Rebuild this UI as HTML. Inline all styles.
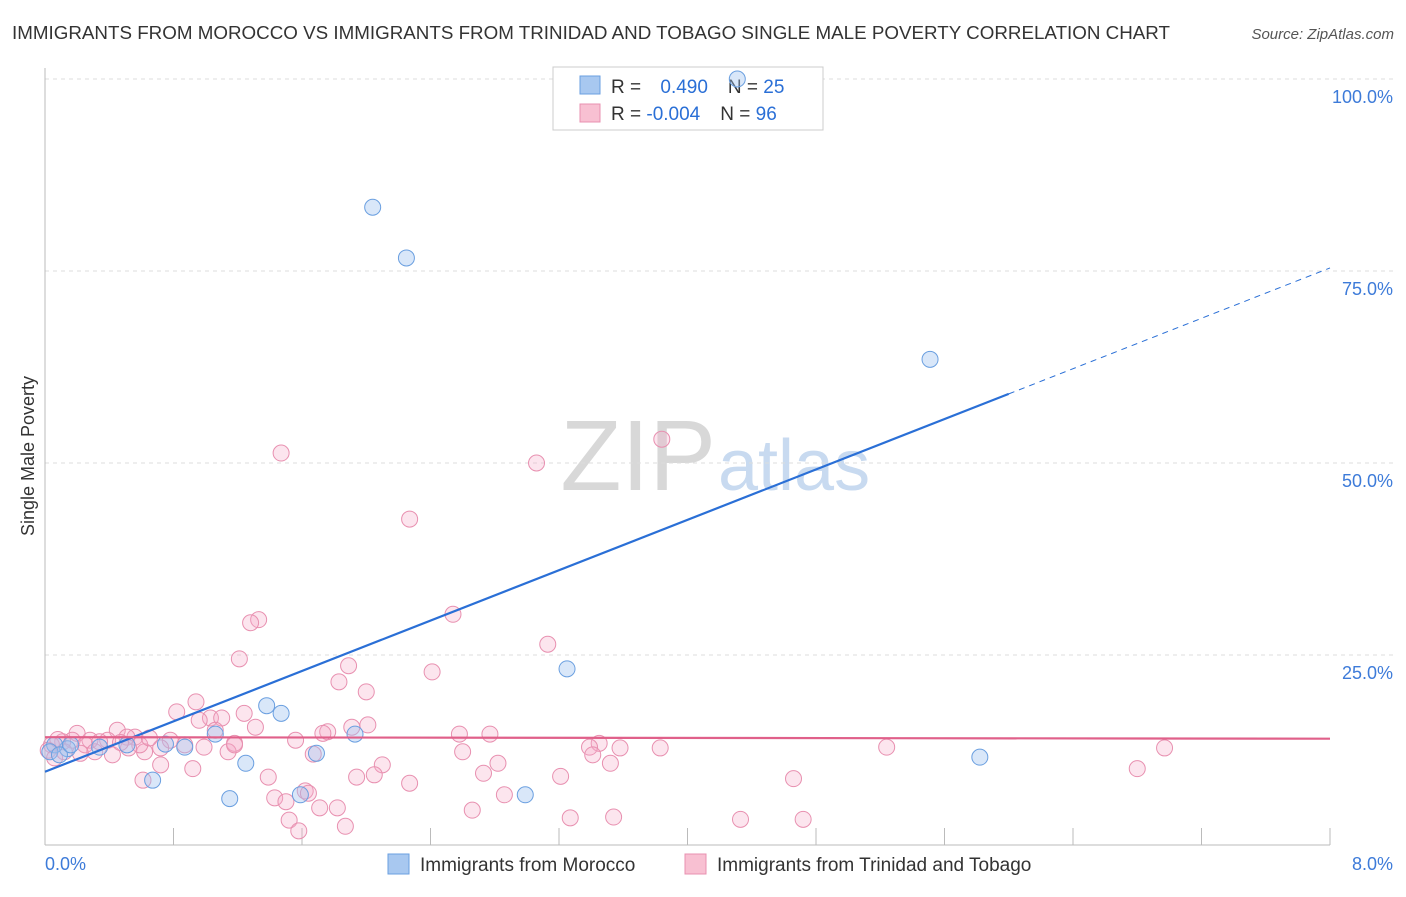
<!DOCTYPE html>
<html><head><meta charset="utf-8"><style>
body{margin:0;background:#fff;font-family:"Liberation Sans",sans-serif;}
svg text{font-family:"Liberation Sans",sans-serif;}
</style></head><body>
<svg id="chart" width="1406" height="892" xmlns="http://www.w3.org/2000/svg">
<text x="12" y="39" font-size="18" fill="#333" textLength="1158" lengthAdjust="spacingAndGlyphs">IMMIGRANTS FROM MOROCCO VS IMMIGRANTS FROM TRINIDAD AND TOBAGO SINGLE MALE POVERTY CORRELATION CHART</text>
<text x="1394" y="39" font-size="15" fill="#555" text-anchor="end" font-style="italic">Source: ZipAtlas.com</text>
<text x="716" y="490" font-size="100" fill="#d8d8d8" text-anchor="end" font-family="Liberation Serif">ZIP</text>
<text x="718" y="490" font-size="72" fill="#c8daf0">atlas</text>
<g id="grid"></g>
<g id="axes"></g>
<g>
<rect x="553" y="67" width="270" height="63" fill="#fff" stroke="#ccc"/>
<rect x="580" y="76" width="20" height="18" fill="#a8c8f0" stroke="#6a9fe0"/>
<rect x="580" y="104" width="20" height="18" fill="#f8c0d2" stroke="#e890b0"/>
<text x="611" y="93" font-size="19" fill="#333">R = <tspan fill="#2a6fd6" dx="14">0.490</tspan><tspan dx="20" fill="#333">N = </tspan><tspan fill="#2a6fd6">25</tspan></text>
<text x="611" y="120" font-size="19" fill="#333">R = <tspan fill="#2a6fd6">-0.004</tspan><tspan dx="20" fill="#333">N = </tspan><tspan fill="#2a6fd6">96</tspan></text>
</g>
<g id="pinkpts"></g>
<g id="bluepts"></g>
<g id="lines"></g>
<text transform="translate(34,456) rotate(-90)" font-size="18" fill="#333" text-anchor="middle">Single Male Poverty</text>
<g>
<rect x="388" y="854" width="21" height="20" fill="#a8c8f0" stroke="#6a9fe0"/>
<text x="420" y="871" font-size="19" fill="#333">Immigrants from Morocco</text>
<rect x="685" y="854" width="21" height="20" fill="#f8c0d2" stroke="#e890b0"/>
<text x="717" y="871" font-size="19" fill="#333">Immigrants from Trinidad and Tobago</text>
</g>
</svg>
<script>
const yTicks=[100,75,50,25];
const yTickLabels=["100.0%","75.0%","50.0%","25.0%"];
const xTicks=[0,0.8,1.6,2.4,3.2,4.0,4.8,5.6,6.4,7.2,8.0];
const xTickLabels=["0.0%","8.0%"];
const blueX=[4.31,2.04,2.25,5.51,3.25,1.38,1.47,1.93,1.06,1.69,1.25,0.67,1.15,1.59,2.99,5.82,0.87,0.75,0.51,0.34,0.14,0.06,0.03,0.09,0.16];
const blueY=[100,83.3,76.7,63.5,23.2,18.4,17.4,14.7,14.7,12.2,10.9,8.7,6.3,6.8,6.8,11.7,13.0,13.4,13.3,13.0,12.8,13.3,12.4,12.0,13.3];
const pinkX=[1.47,3.06,3.84,2.27,2.54,1.33,1.28,3.13,1.21,1.89,2.41,1.83,2.0,0.94,0.82,1.24,1.03,1.1,0.96,1.31,1.91,2.01,1.76,1.73,2.58,2.77,1.56,1.18,3.45,3.39,3.58,3.83,5.24,6.97,2.6,1.67,1.14,0.99,0.78,0.72,0.62,0.56,0.45,0.39,0.28,0.2,0.17,0.11,0.04,0.02,0.06,0.25,0.42,0.51,0.59,2.82,3.52,3.41,2.1,0.72,0.92,0.61,1.39,1.94,2.05,2.73,3.21,2.27,4.66,6.8,1.43,1.5,1.62,1.64,2.86,1.71,1.82,1.52,1.58,1.87,2.66,3.27,3.54,4.33,4.72,0.12,0.31,0.34,0.65,0.87,1.06,1.18,0.52,0.08,0.22,0.47];
const pinkY=[51.3,50,53.1,42.7,30.3,29.6,29.2,26.4,24.5,23.6,22.8,21.5,20.2,18.9,17.6,17.4,16.8,16.8,16.5,15.6,15.6,15.9,15,14.8,14.7,14.7,13.9,13.5,13.5,13.0,12.9,12.9,13.0,12.9,12.4,12.1,12.4,13.0,13.9,12.9,12.4,14.3,15.2,13.9,13.9,14.8,13.9,13.7,13.3,12.6,11.6,13.3,12.0,14.3,13.3,10.9,10.9,12.0,10.7,10.7,10.2,8.7,9.1,9.1,9.4,9.6,9.2,8.3,8.9,10.2,6.4,5.9,7.3,7.0,6.8,5.1,5.1,3.5,2.1,2.7,4.8,3.8,3.9,3.6,3.6,12.4,12.4,13.7,14.2,13.3,15.2,13.3,12.9,14.0,12.2,13.6];
const blueLine=[9.8,75.4];
const blueSolidEnd=6.0;
const pinkLine=[14.3,14.1];
const X=v=>45+v/8*1285, Y=v=>847-v*7.68;
const NS="http://www.w3.org/2000/svg";
function mk(parent,tag,attrs){const e=document.createElementNS(NS,tag);for(const k in attrs)e.setAttribute(k,attrs[k]);document.getElementById(parent).appendChild(e);return e;}
yTicks.forEach((t,i)=>{
 const g=mk('grid','line',{x1:45,x2:1393,y1:Y(t),y2:Y(t),stroke:'#ddd','stroke-dasharray':'4,4'});
 
 
 const tx=mk('axes','text',{x:1393,y:Y(t)+24,'font-size':18,fill:'#3d7bd9','text-anchor':'end'});tx.textContent=yTickLabels[i];
 
 
});
const ax=mk('axes','line',{x1:45,x2:45,y1:68,y2:845,stroke:'#bbb'});


const bx=mk('axes','line',{x1:45,x2:1330,y1:845,y2:845,stroke:'#bbb'});


xTicks.forEach(t=>{const l=mk('axes','line',{x1:X(t),x2:X(t),y1:828,y2:845,stroke:'#bbb'});
 
 });
[[0,45,'start'],[8,1393,'end']].forEach((d,i)=>{const t=mk('axes','text',{x:d[1],y:870,'font-size':18,fill:'#3d7bd9','text-anchor':d[2]});t.textContent=xTickLabels[i];
 
 });
pinkX.forEach((x,i)=>{const c=mk('pinkpts','circle',{cx:X(x),cy:Y(pinkY[i]),r:8,fill:'rgba(245,170,200,0.3)',stroke:'#e890b0','stroke-width':1});
 
 });
blueX.forEach((x,i)=>{const c=mk('bluepts','circle',{cx:X(x),cy:Y(blueY[i]),r:8,fill:'rgba(160,195,240,0.4)',stroke:'#6a9fe0','stroke-width':1});
 
 });
const by=x=>blueLine[0]+(blueLine[1]-blueLine[0])*x/8;
const l1=mk('lines','line',{x1:X(0),y1:Y(by(0)),x2:X(blueSolidEnd),y2:Y(by(blueSolidEnd)),stroke:'#2a6fd6','stroke-width':2.2});


const l2=mk('lines','line',{x1:X(blueSolidEnd),y1:Y(by(blueSolidEnd)),x2:X(8),y2:Y(by(8)),stroke:'#2a6fd6','stroke-width':1,'stroke-dasharray':'6,5'});


const l3=mk('lines','line',{x1:X(0),y1:Y(pinkLine[0]),x2:X(8),y2:Y(pinkLine[1]),stroke:'#e0608a','stroke-width':2.2});


</script>
</body></html>
